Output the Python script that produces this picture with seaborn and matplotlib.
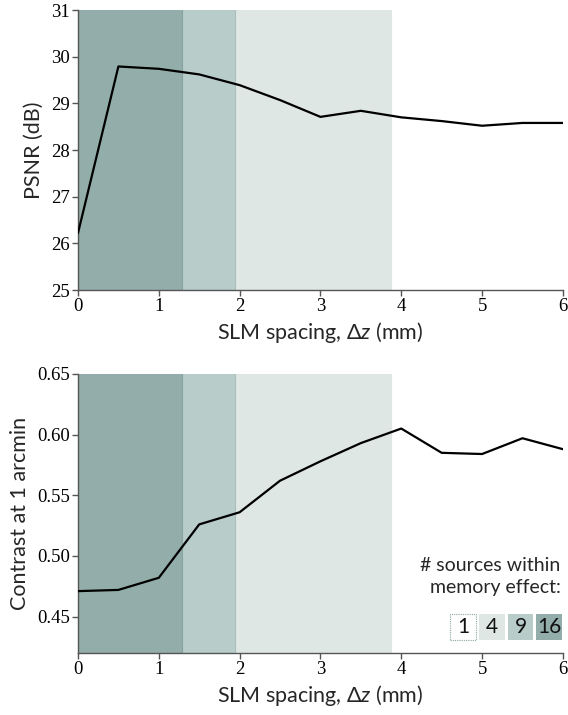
import matplotlib
matplotlib.use("Agg")
import matplotlib.pyplot as plt
from matplotlib.patches import Rectangle
import seaborn as sns
import pandas as pd

spacing = [0, 0.5, 1, 1.5, 2, 2.5, 3, 3.5, 4, 4.5, 5, 5.5, 6]
psnr = [26.22, 29.79, 29.74, 29.62, 29.39, 29.07, 28.71, 28.84, 28.70, 28.62, 28.52, 28.58, 28.58]
contrast = [0.471, 0.472, 0.482, 0.526, 0.536, 0.562, 0.578, 0.593, 0.605, 0.585, 0.584, 0.597, 0.588]

# memory-effect region boundaries (mm) and number of sources
region_edges = [0, 1.29, 1.94, 3.87]
region_sources = ["16", "9", "4"]
legend_sources = ["1", "4", "9", "16"]
region_colors = {"16": "#93aeaa", "9": "#b8ccc9", "4": "#dfe7e5", "1": "#ffffff"}
edge_colors = {"16": "#86a39e", "9": "#a8bfbb", "4": "#dfe7e5", "1": "#ffffff"}

sns.set_theme(style="ticks")
plt.rcParams["font.family"] = ["Lato", "DejaVu Sans"]
plt.rcParams["mathtext.fontset"] = "custom"
plt.rcParams["mathtext.it"] = "Lato:italic"
plt.rcParams["mathtext.rm"] = "Lato"

df = pd.DataFrame({"spacing": spacing, "psnr": psnr, "contrast": contrast})

fig = plt.figure(figsize=(5.68, 7.15), dpi=100)
ax1 = fig.add_axes([0.1373, 0.5944, 0.8537, 0.3916])
ax2 = fig.add_axes([0.1373, 0.0867, 0.8537, 0.3903])

def shade(ax):
    for i in reversed(range(len(region_sources))):
        x0 = region_edges[0]
        x1 = region_edges[i + 1]
        s = region_sources[i]
        ax.axvspan(x0, x1, facecolor=region_colors[s], edgecolor="none", zorder=0)
        ax.axvline(x1, color=edge_colors[s], lw=0.8, zorder=0.5)

for ax, col, ylab in [(ax1, "psnr", "PSNR (dB)"), (ax2, "contrast", "Contrast at 1 arcmin")]:
    shade(ax)
    sns.lineplot(data=df, x="spacing", y=col, ax=ax, color="black", lw=1.6, zorder=3)
    ax.set_xlim(0, 6)
    ax.set_xticks(range(0, 7))
    ax.set_xlabel(r"SLM spacing, $\Delta z$ (mm)", fontsize=15.5, labelpad=3)
    ax.set_ylabel(ylab, fontsize=15.5, labelpad=5)
    sns.despine(ax=ax)
    for sp in ["left", "bottom"]:
        ax.spines[sp].set_color("#555555")
        ax.spines[sp].set_linewidth(1.0)
    ax.tick_params(axis="both", colors="#555555", labelcolor="black", length=4, width=1.0,
                   pad=2, labelsize=13.5, labelfontfamily="Liberation Serif")

ax1.set_ylim(25, 31)
ax1.set_yticks(range(25, 32))
ax2.set_ylim(0.42, 0.65)
ax2.set_yticks([0.45, 0.50, 0.55, 0.60, 0.65])
ax2.set_yticklabels(["0.45", "0.50", "0.55", "0.60", "0.65"])

# legend for number of sources
ax2.text(0.995, 0.315, "# sources within", transform=ax2.transAxes, ha="right", va="center", fontsize=14)
ax2.text(0.995, 0.235, "memory effect:", transform=ax2.transAxes, ha="right", va="center", fontsize=14)
bw, gap = 0.053, 0.006
by, bh = 0.047, 0.094
x_right = 0.998
n = len(legend_sources)
for i, s in enumerate(legend_sources):
    x0 = x_right - (n - i) * bw - (n - 1 - i) * gap
    if s == "1":
        r = Rectangle((x0, by), bw, bh, transform=ax2.transAxes, facecolor="white",
                      edgecolor="#8aa8a3", lw=0.8, ls=(0, (1, 1)), zorder=5, clip_on=False)
    else:
        r = Rectangle((x0, by), bw, bh, transform=ax2.transAxes, facecolor=region_colors[s],
                      edgecolor="none", zorder=5, clip_on=False)
    ax2.add_patch(r)
    ax2.text(x0 + bw / 2, by + bh / 2, s, transform=ax2.transAxes, ha="center", va="center",
             fontsize=15, zorder=6, color="#111111")

fig.savefig("out.png", dpi=100)
